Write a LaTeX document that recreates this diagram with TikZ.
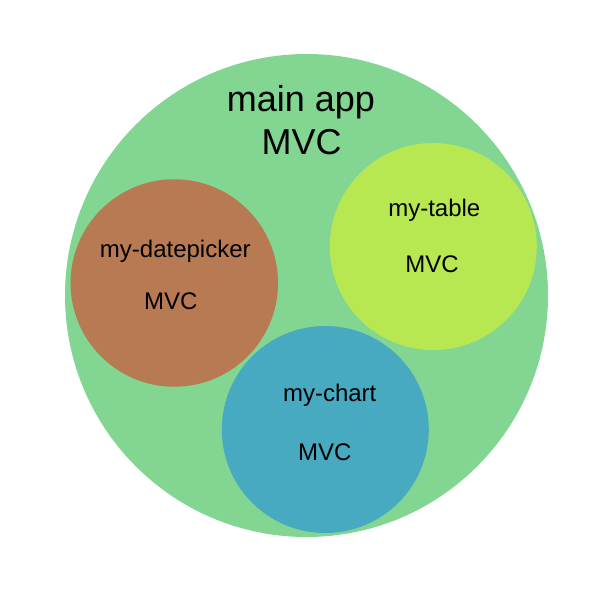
\documentclass[tikz,border=0pt]{standalone}
\usepackage{fontspec}
\setmainfont{Liberation Sans}
\definecolor{maingreen}{HTML}{82D692}
\definecolor{dpbrown}{HTML}{B87A52}
\definecolor{tblgreen}{HTML}{B7E852}
\definecolor{charttl}{HTML}{47AAC0}
\begin{document}
\begin{tikzpicture}[x=1pt,y=-1pt,
  bubble/.style={circle,inner sep=0pt,outer sep=0pt,draw=none},
  bigtxt/.style={anchor=base,inner sep=0pt,font=\fontsize{36}{40}\selectfont},
  smalltxt/.style={anchor=base,inner sep=0pt,font=\fontsize{24}{28}\selectfont}]
\useasboundingbox (0,0) rectangle (600,600);
\node[bubble,fill=maingreen,minimum size=483pt] (main) at (306.5,295.5) {};
\node[bubble,fill=dpbrown,minimum size=207.5pt] (dp) at (174.3,283) {};
\node[bubble,fill=tblgreen,minimum size=207pt] (tbl) at (433.3,246.5) {};
\node[bubble,fill=charttl,minimum size=207pt] (chart) at (325.3,429.5) {};
\node[bigtxt] (mainA) at (301,111.5) {main app};
\node[bigtxt] (mainB) at (301.7,154) {MVC};
\node[smalltxt] (dpA) at (175.3,257.5) {my-datepicker};
\node[smalltxt] (dpB) at (170.8,309.3) {MVC};
\node[smalltxt] (tblA) at (434.3,216) {my-table};
\node[smalltxt] (tblB) at (432,272.7) {MVC};
\node[smalltxt] (chA) at (329.7,401.7) {my-chart};
\node[smalltxt] (chB) at (324.7,460) {MVC};
\end{tikzpicture}
\end{document}
